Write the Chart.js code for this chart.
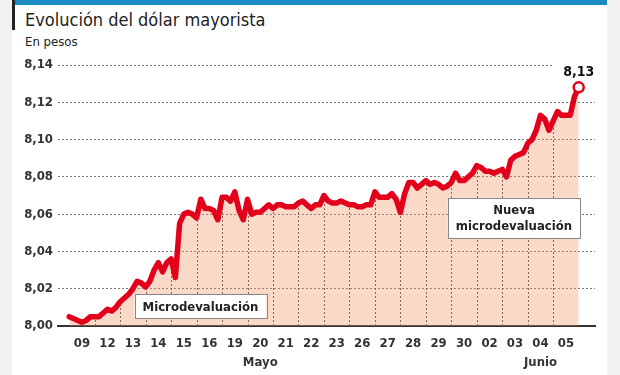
<!DOCTYPE html>
<html lang="es">
<head>
<meta charset="utf-8">
<script src="https://cdn.jsdelivr.net/npm/chart.js@4.4.1/dist/chart.umd.min.js"></script>
<style>
  body { margin: 0; background: #f1f1f1; }
  #wrap { position: relative; width: 620px; height: 375px; overflow: hidden; }
  #card { position: absolute; left: 12px; top: 0; width: 595px; height: 375px; background: #fff; }
  #bar { position: absolute; left: 12px; top: 0; width: 595px; height: 5px; background: #1a8bc3; }
  #rule { position: absolute; left: 12px; top: 0; width: 3px; height: 30px; background: #222; }
  .txt { position: absolute; left: 25px; margin: 0; color: #222; white-space: nowrap;
         font-family: 'Liberation Sans Narrow', 'DejaVu Sans Condensed', Roboto, sans-serif; font-stretch: condensed; }
  h1.txt { top: 9px; font-size: 18px; font-weight: 400; }
  #sub { top: 34px; font-size: 13px; }
  canvas { position: absolute; left: 0; top: 0; }
</style>
</head>
<body>
<div id="wrap">
  <div id="card"></div>
  <div id="bar"></div>
  <div id="rule"></div>
  <h1 class="txt">Evolución del dólar mayorista</h1>
  <div class="txt" id="sub">En pesos</div>
  <canvas id="dolarChart" width="620" height="375"></canvas>
</div>
<script>
// trading days shown on the axis
const days = ['09', '12', '13', '14', '15', '16', '19', '20', '21', '22', '23', '26', '27', '28', '29', '30', '02', '03', '04', '05'];
const months = ['', '', '', '', '', '', '', 'Mayo', '', '', '', '', '', '', '', '', '', '', 'Junio', ''];
const yTicks = [8.00, 8.02, 8.04, 8.06, 8.08, 8.10, 8.12, 8.14];

// intraday quotes (pesos per dollar)
const may09 = [8.005, 8.004, 8.003, 8.002, 8.003, 8.005];
const may12 = [8.005, 8.005, 8.007, 8.009, 8.008, 8.010];
const may13 = [8.013, 8.015, 8.017, 8.020, 8.024, 8.023];
const may14 = [8.021, 8.024, 8.030, 8.034, 8.029, 8.034];
const may15 = [8.036, 8.026, 8.055, 8.060, 8.061, 8.060];
const may16 = [8.058, 8.068, 8.063, 8.063, 8.062, 8.057];
const may19 = [8.069, 8.069, 8.067, 8.072, 8.062, 8.057];
const may20 = [8.068, 8.060, 8.061, 8.061, 8.063, 8.065];
const may21 = [8.063, 8.065, 8.065, 8.064, 8.064, 8.064];
const may22 = [8.066, 8.067, 8.065, 8.063, 8.065, 8.065];
const may23 = [8.070, 8.067, 8.066, 8.066, 8.067, 8.066];
const may26 = [8.065, 8.065, 8.064, 8.064, 8.065, 8.065];
const may27 = [8.072, 8.069, 8.069, 8.069, 8.071, 8.068];
const may28 = [8.061, 8.071, 8.077, 8.077, 8.074, 8.076];
const may29 = [8.078, 8.076, 8.077, 8.076, 8.074, 8.075];
const may30 = [8.077, 8.082, 8.078, 8.078, 8.080, 8.082];
const jun02 = [8.086, 8.085, 8.083, 8.083, 8.082, 8.083];
const jun03 = [8.084, 8.080, 8.089, 8.091, 8.092, 8.093];
const jun04 = [8.098, 8.100, 8.105, 8.113, 8.111, 8.105];
const jun05 = [8.110, 8.115, 8.113, 8.113, 8.113, 8.123];
const lastQuote = 8.128;

const sessions = [may09, may12, may13, may14, may15, may16, may19, may20, may21, may22,
                  may23, may26, may27, may28, may29, may30, jun02, jun03, jun04, jun05];

const points = [];
sessions.forEach((vals, i) => {
  vals.forEach((v, j) => points.push({ x: i + j / vals.length, y: v }));
});
points.push({ x: sessions.length, y: lastQuote });

const RED = '#e2001a';
const FONT = "'Liberation Sans Narrow', 'DejaVu Sans Condensed', Roboto, sans-serif";
const fmt = v => v.toFixed(2).replace('.', ',');

// dotted day separators, only inside the filled area
const daySeparators = {
  id: 'daySeparators',
  beforeDatasetsDraw(chart) {
    const { ctx, scales: { x, y } } = chart;
    ctx.save();
    ctx.strokeStyle = '#555';
    ctx.lineWidth = 1;
    ctx.setLineDash([2, 2]);
    for (let i = 1; i < sessions.length; i++) {
      const px = Math.round(x.getPixelForValue(i)) + 0.5;
      ctx.beginPath();
      ctx.moveTo(px, y.getPixelForValue(yTicks[0]));
      ctx.lineTo(px, y.getPixelForValue(sessions[i][0]));
      ctx.stroke();
    }
    ctx.restore();
  }
};

const notes = {
  id: 'notes',
  afterDatasetsDraw(chart) {
    const { ctx, scales: { x, y } } = chart;
    const boxes = [
      { at: [5.15, 8.0105], lines: ['Microdevaluación'] },
      { at: [17.46, 8.058], lines: ['Nueva', 'microdevaluación'] }
    ];
    ctx.save();
    ctx.font = '600 13px ' + FONT;
    ctx.textAlign = 'center';
    ctx.textBaseline = 'middle';
    boxes.forEach(b => {
      const cx = x.getPixelForValue(b.at[0]);
      const cy = y.getPixelForValue(b.at[1]);
      const w = Math.max(...b.lines.map(l => ctx.measureText(l).width)) + 16;
      const h = b.lines.length * 16 + 8;
      ctx.fillStyle = '#fff';
      ctx.fillRect(cx - w / 2, cy - h / 2, w, h);
      ctx.strokeStyle = '#888';
      ctx.lineWidth = 1;
      ctx.strokeRect(Math.round(cx - w / 2) + 0.5, Math.round(cy - h / 2) + 0.5, Math.round(w), Math.round(h));
      ctx.fillStyle = '#222';
      b.lines.forEach((l, k) => ctx.fillText(l, cx, cy - (b.lines.length - 1) * 8 + k * 16 + 1));
    });

    // closing value label
    const lx = x.getPixelForValue(sessions.length);
    const ly = y.getPixelForValue(lastQuote) - 15;
    ctx.fillStyle = '#fff';
    ctx.fillRect(lx - 26, ly - 10, 48, 18);
    ctx.font = 'bold 14px ' + FONT;
    ctx.fillStyle = '#111';
    ctx.fillText(fmt(lastQuote), lx, ly);
    ctx.restore();
  }
};

new Chart(document.getElementById('dolarChart'), {
  type: 'line',
  data: {
    datasets: [{
      data: points,
      borderColor: RED,
      borderWidth: 5.5,
      borderJoinStyle: 'round',
      borderCapStyle: 'round',
      backgroundColor: 'rgba(241, 141, 92, 0.33)',
      fill: 'start',
      tension: 0,
      pointRadius: c => (c.dataIndex === points.length - 1 ? 5 : 0),
      pointBackgroundColor: '#fff',
      pointBorderColor: RED,
      pointBorderWidth: 2.5
    }]
  },
  options: {
    responsive: false,
    animation: false,
    layout: { padding: { top: 65, right: 25, left: 0, bottom: 0 } },
    plugins: { legend: { display: false }, tooltip: { enabled: false } },
    scales: {
      x: {
        type: 'linear',
        min: -0.44,
        max: 20.64,
        afterBuildTicks: s => { s.ticks = days.map((d, i) => ({ value: i + 0.5 })); },
        afterFit: s => { s.height = 49; },
        grid: { display: false },
        border: { display: true, color: '#333', width: 2 },
        ticks: {
          autoSkip: false,
          maxRotation: 0,
          padding: 0,
          color: '#333',
          font: { family: FONT, size: 13, weight: '600', lineHeight: 1.45 },
          callback: (v, i) => (months[i] ? [days[i], months[i]] : days[i])
        }
      },
      y: {
        min: 8.00,
        max: 8.14,
        afterBuildTicks: s => { s.ticks = yTicks.map(v => ({ value: v })); },
        afterFit: s => { s.width = 58; },
        grid: {
          drawTicks: false,
          color: c => (c.tick && c.tick.value === yTicks[0] ? 'rgba(0,0,0,0)' : '#7a7a7a')
        },
        border: { display: false, dash: [2, 2] },
        ticks: {
          padding: 5,
          color: '#333',
          font: { family: FONT, size: 13, weight: '600' },
          callback: v => fmt(v)
        }
      }
    }
  },
  plugins: [daySeparators, notes]
});
</script>
</body>
</html>
